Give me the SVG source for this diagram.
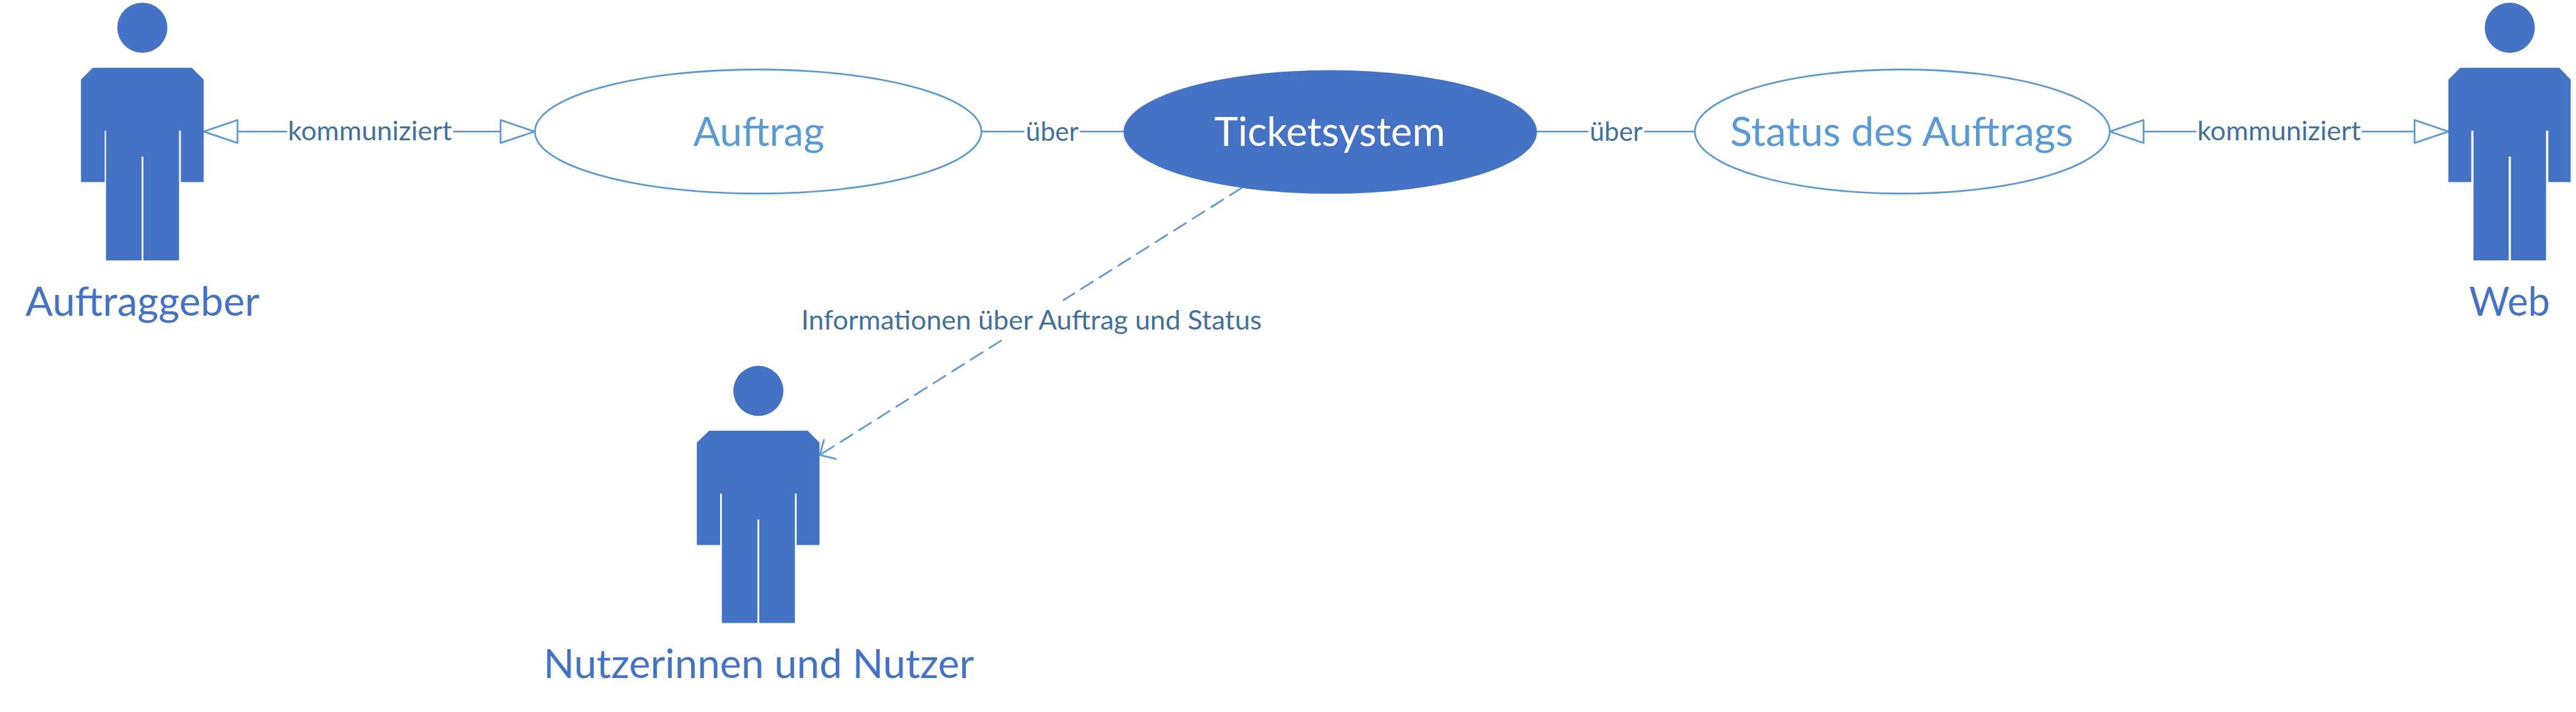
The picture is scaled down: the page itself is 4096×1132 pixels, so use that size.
<svg xmlns="http://www.w3.org/2000/svg" width="4096" height="1132" viewBox="0 0 4096 1132">
<style>
text{font-family:Lato,"Liberation Sans",sans-serif;text-anchor:middle}
.actor{fill:#4472C4}
.name{fill:#4472C4;font-size:90px}
.uc{fill:#fff;stroke:#5B9BD5;stroke-width:4}
.uct{fill:#5B9BD5;font-size:90px}
.lbl{fill:#41719C;font-size:60px}
.ln{fill:none;stroke:#5B9BD5;stroke-width:4}
.dash{fill:none;stroke:#5B9BD5;stroke-width:4;stroke-dasharray:32 18;stroke-linecap:round}
</style>
<defs>
<marker id="hollow" markerUnits="userSpaceOnUse" markerWidth="90" markerHeight="64" refX="84" refY="32" orient="auto" viewBox="0 0 90 64" overflow="visible"><path d="M7 6 L84 32 L7 58 Z" fill="#fff" stroke="#5B9BD5" stroke-width="4" stroke-linejoin="round"/></marker>
<marker id="open" markerUnits="userSpaceOnUse" markerWidth="60" markerHeight="60" refX="44" refY="30" orient="auto" viewBox="0 0 60 60" overflow="visible"><path d="M24 54 L50 30 L24 3" fill="none" stroke="#5B9BD5" stroke-width="4" stroke-linecap="round" stroke-linejoin="round"/></marker>
</defs>
<g transform="scale(0.69945)">
<g id="connectors">
<path class="ln" d="M653 299 H463" marker-end="url(#hollow)"/>
<path class="ln" d="M1030 299 H1215" marker-end="url(#hollow)"/>
<path class="ln" d="M2232 299 H2329"/>
<path class="ln" d="M2455 299 H2554"/>
<path class="ln" d="M3494 299 H3611"/>
<path class="ln" d="M3738 299 H3853"/>
<path class="ln" d="M4993 299 H4796" marker-end="url(#hollow)"/>
<path class="ln" d="M5369 299 H5566" marker-end="url(#hollow)"/>
<path class="dash" d="M2823 427 L2418 682"/>
<path class="dash" d="M2276 774 L1869 1031" marker-end="url(#open)"/>
<text class="lbl" x="841" y="319" textLength="373" lengthAdjust="spacingAndGlyphs">kommuniziert</text>
<text class="lbl" x="2392" y="320" textLength="120" lengthAdjust="spacingAndGlyphs">über</text>
<text class="lbl" x="3674" y="320" textLength="120" lengthAdjust="spacingAndGlyphs">über</text>
<text class="lbl" x="5181" y="319" textLength="372" lengthAdjust="spacingAndGlyphs">kommuniziert</text>
<text class="lbl" x="2345" y="749" textLength="1047" lengthAdjust="spacingAndGlyphs">Informationen über Auftrag und Status</text>
</g>
<g id="actor-auftraggeber">
<ellipse class="actor" cx="323.5" cy="63" rx="57" ry="57"/>
<path class="actor" d="M211 154 H436 L463 181 V414 H411 V297 H407 V592 H326 V356 H322 V592 H241 V297 H238 V414 H184 V181 Z"/>
<text class="name" x="324" y="717" textLength="532" lengthAdjust="spacingAndGlyphs">Auftraggeber</text>
</g>
<g id="usecase-auftrag">
<ellipse class="uc" cx="1723.500" cy="299" rx="507.500" ry="141"/>
<text class="uct" x="1725" y="331" textLength="298" lengthAdjust="spacingAndGlyphs">Auftrag</text>
</g>
<g id="usecase-ticketsystem">
<ellipse cx="3024" cy="300" rx="470" ry="140.500" fill="#4472C4"/>
<text x="3023" y="331" font-size="90" fill="#fff" textLength="525" lengthAdjust="spacingAndGlyphs">Ticketsystem</text>
</g>
<g id="usecase-status">
<ellipse class="uc" cx="4324.500" cy="299" rx="471.500" ry="141"/>
<text class="uct" x="4323" y="331" textLength="780" lengthAdjust="spacingAndGlyphs">Status des Auftrags</text>
</g>
<g id="actor-web">
<ellipse class="actor" cx="5705.500" cy="63" rx="57" ry="57"/>
<path class="actor" d="M5593 154 H5818 L5844 181 V414 H5793 V297 H5788 V592 H5708 V356 H5703 V592 H5623 V297 H5618 V414 H5566 V181 Z"/>
<text class="name" x="5705" y="717" textLength="184" lengthAdjust="spacingAndGlyphs">Web</text>
</g>
<g id="actor-nutzer">
<ellipse class="actor" cx="1724" cy="888.500" rx="57" ry="57"/>
<path class="actor" d="M1612 979 H1836 L1863 1006 V1239 H1811 V1122 H1807 V1416 H1726 V1181 H1722 V1416 H1641 V1122 H1637 V1239 H1584 V1006 Z"/>
<text class="name" x="1725" y="1541" textLength="979" lengthAdjust="spacingAndGlyphs">Nutzerinnen und Nutzer</text>
</g>
</g>
</svg>
